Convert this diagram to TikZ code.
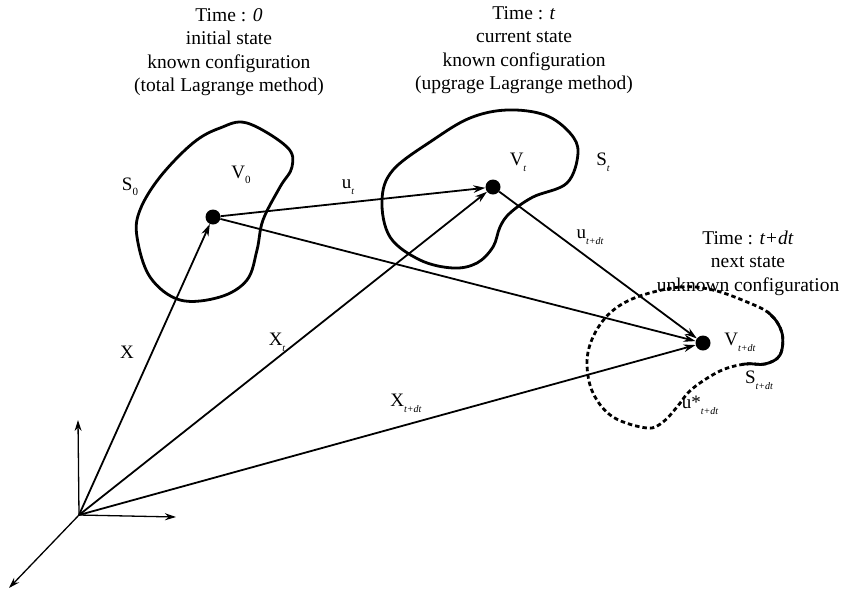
\documentclass[tikz,border=0pt]{standalone}
\usepackage{fontspec}
\setmainfont{Liberation Serif}
\usetikzlibrary{arrows.meta}
\newcommand{\lowsub}[1]{\raisebox{-0.7ex}{\fontsize{10}{10}\selectfont\itshape #1}}
\newcommand{\lowsubrm}[1]{\raisebox{-0.6ex}{\fontsize{11}{11}\selectfont #1}}
\begin{document}
\begin{tikzpicture}[x=1pt,y=-1pt,
  vec/.style={line width=1.8pt, -{Stealth[length=12pt,width=7.5pt]}},
  axis/.style={line width=1.3pt, -{Stealth[length=11pt,width=7pt]}},
  body/.style={line width=2.8pt},
  dashedbody/.style={line width=2.8pt, dash pattern=on 4.5pt off 3pt},
  lbl/.style={font=\fontsize{19}{23}\selectfont, inner sep=0pt},
  title/.style={font=\fontsize{19.5}{23.5}\selectfont, align=center, inner sep=0pt},
  dotp/.style={circle, fill, inner sep=0pt, minimum size=15pt}]
\useasboundingbox (0,0) rectangle (846,590);

% bodies
\draw[body] plot[smooth cycle, tension=0.6] coordinates {(247,123) (287,147) (292,167) (280,187) (263,220) (257,250) (247,280) (220,297) (180,300) (150,277) (137,237) (140,210) (160,177) (193,143) (220,128)};
\draw[body] plot[smooth cycle, tension=0.6] coordinates {(507,110) (545,115) (570,133) (578,153) (567,183) (533,197) (510,213) (500,227) (493,247) (477,263) (453,268) (420,260) (390,237) (382,200) (393,170) (433,140) (470,118)};
\def\nextshape{plot[smooth cycle, tension=0.6] coordinates {(637,297) (680,287) (713,290) (747,302) (770,314) (782,333) (780,355) (765,364) (745,364) (720,371) (692,389) (677,407) (663,422) (647,428) (613,417) (593,393) (587,363) (593,337) (610,313)}}
\draw[dashedbody] \nextshape;
\begin{scope}
\clip (768,290) -- (846,290) -- (846,385) -- (742,385) -- (742,356) -- (768,356) -- cycle;
\draw[body] \nextshape;
\end{scope}

% points
\coordinate (O) at (79,515);
\coordinate (ax1) at (78,420);
\coordinate (ax2) at (176,517);
\coordinate (ax3) at (9,588);
\node[dotp] (P0) at (213,217) {};
\node[dotp] (Pt) at (493,187) {};
\node[dotp] (Ptdt) at (703,343) {};

% axes
\draw[axis] (O) -- (ax1);
\draw[axis] (O) -- (ax2);
\draw[axis] (O) -- (ax3);

% vectors
\draw[vec] (O) -- (P0);
\draw[vec] (O) -- (Pt);
\draw[vec] (O) -- (Ptdt);
\draw[vec] (P0) -- (Pt);
\draw[vec] (P0) -- (Ptdt);
\draw[vec] (Pt) -- (Ptdt);

% labels
\node[lbl] (lX) at (127,352) {X};
\node[lbl] (lXt) at (277,342) {X\lowsub{t}};
\node[lbl] (lXtdt) at (406,403) {X\lowsub{t+dt}};
\node[lbl] (lut) at (348,187) {u\lowsub{t}};
\node[lbl] (lutdt) at (590,237) {u\lowsub{t+dt}};
\node[lbl] (lS0) at (130,187) {S\lowsubrm{0}};
\node[lbl] (lV0) at (241,175) {V\lowsubrm{0}};
\node[lbl] (lVt) at (518,162) {V\lowsub{t}};
\node[lbl] (lSt) at (603,162) {S\lowsub{t}};
\node[lbl] (lVtdt) at (740,342) {V\lowsub{t+dt}};
\node[lbl] (lStdt) at (759,380) {S\lowsub{t+dt}};
\node[lbl] (lustar) at (700,405) {u*\lowsub{t+dt}};

% titles
\node[title] (T0) at (229,52) {Time : \textit{0}\\initial state\\known configuration\\(total Lagrange method)};
\node[title] (Tt) at (524,50) {Time : \textit{t}\\current state\\known configuration\\(upgrage Lagrange method)};
\node[title] (Ttdt) at (748,263) {Time : \textit{t+dt}\\next state\\unknown configuration};
\end{tikzpicture}
\end{document}
